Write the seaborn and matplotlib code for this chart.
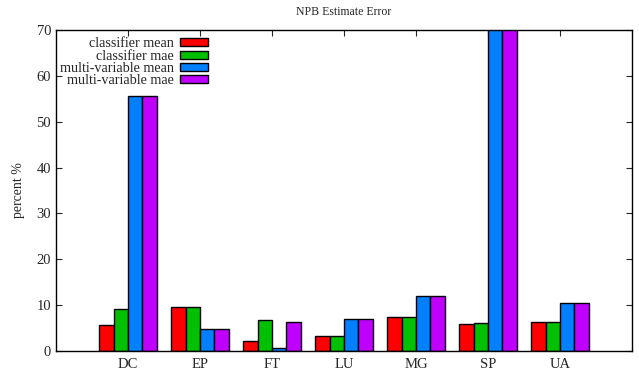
import matplotlib
matplotlib.use("Agg")
import matplotlib.pyplot as plt
import seaborn as sns
import pandas as pd

categories = ["DC", "EP", "FT", "LU", "MG", "SP", "UA"]
series_names = ["classifier mean", "classifier mae", "multi-variable mean", "multi-variable mae"]
classifier_mean = [5.7, 9.5, 2.2, 3.3, 7.5, 5.9, 6.4]
classifier_mae = [9.2, 9.5, 6.7, 3.3, 7.5, 6.0, 6.4]
mv_mean = [55.6, 4.7, 0.7, 7.0, 12.1, 75.0, 10.5]
mv_mae = [55.7, 4.7, 6.3, 7.0, 12.1, 75.0, 10.5]
colors = ["#ff0000", "#00c000", "#0080ff", "#c000ff"]

rows = []
for name, vals in zip(series_names, [classifier_mean, classifier_mae, mv_mean, mv_mae]):
    for c, v in zip(categories, vals):
        rows.append({"cat": c, "series": name, "value": v})
df = pd.DataFrame(rows)

sns.set_style("ticks")
plt.rcParams["font.family"] = ["Liberation Serif", "DejaVu Serif"]

fig = plt.figure(figsize=(6.39, 3.77), dpi=100)
ax = fig.add_axes([56/639, 26/377, 576/639, 321/377])

sns.barplot(data=df, x="cat", y="value", hue="series", order=categories,
            hue_order=series_names, palette=colors, width=0.8,
            edgecolor="black", linewidth=1.0, ax=ax, legend=True,
            saturation=1)

ax.set_xlim(-1, 7)
ax.set_ylim(0, 70)
ax.set_yticks(range(0, 71, 10))
ax.set_xlabel("")
ax.set_ylabel("percent %", fontsize=10, labelpad=8)
ax.set_title("NPB Estimate Error", fontsize=8.5, pad=10.5)
for s in ax.spines.values():
    s.set_visible(True)
    s.set_linewidth(1.0)
    s.set_color("black")
ax.tick_params(direction="in", top=True, right=True, labelsize=10.5, length=4, width=0.8)
ax.tick_params(axis="x", pad=5)

leg = ax.legend(loc="upper left", bbox_to_anchor=(-0.013, 1.012), frameon=False,
                markerfirst=False, fontsize=10.2, handlelength=2.0, handleheight=0.5,
                labelspacing=-0.05, handletextpad=0.4, borderpad=0.3)

fig.savefig("out.png", dpi=100)
